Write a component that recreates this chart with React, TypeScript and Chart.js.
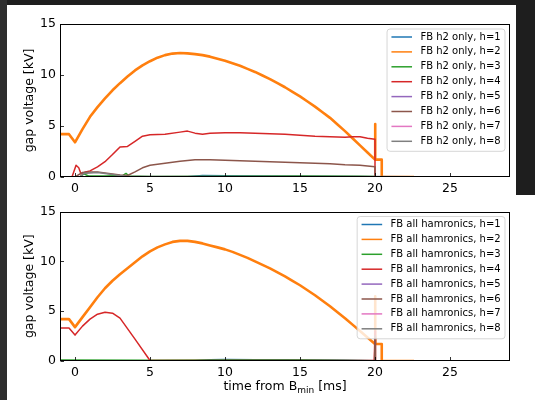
import React, { useEffect, useRef } from "react";
import { Chart, registerables } from "chart.js";
Chart.register(...registerables);

type P = [number, number];

const harmonics = [1, 2, 3, 4, 5, 6, 7, 8];
const colors = ["#1f77b4", "#ff7f0e", "#2ca02c", "#d62728", "#9467bd", "#8c564b", "#e377c2", "#7f7f7f"];
const xTicks = [0, 5, 10, 15, 20, 25];
const yTicks = [0, 5, 10, 15];
const xMin = -1;
const xMax = 29;
const yMin = 0;
const yMax = 15;
const topLabel = "FB h2 only";
const bottomLabel = "FB all hamronics";
const yTitle = "gap voltage [kV]";
const xTitleMain = "time from B";
const xTitleSub = "min";
const xTitleEnd = " [ms]";

// ---- top panel: FB h2 only ----
const topH1: P[] = [[-1, 0], [7.5, 0.02], [8.5, 0.15], [10, 0.12], [12, 0.1], [14, 0.08], [17, 0.05], [20, 0.02], [22.6, 0]];
const topH2: P[] = [[-1, 4.2], [-0.4, 4.2], [0, 3.4], [0.5, 4.7], [1, 5.9], [1.5, 6.85], [2, 7.7], [2.5, 8.5], [3, 9.2], [3.5, 9.85], [4, 10.45], [4.5, 10.95], [5, 11.35], [5.5, 11.7], [6, 11.95], [6.5, 12.1], [7, 12.15], [7.5, 12.12], [8, 12.05], [8.5, 11.95], [9, 11.8], [9.5, 11.6], [10, 11.4], [10.5, 11.15], [11, 10.9], [11.5, 10.6], [12, 10.3], [12.5, 9.95], [13, 9.6], [13.5, 9.2], [14, 8.8], [14.5, 8.35], [15, 7.9], [15.5, 7.4], [16, 6.9], [16.5, 6.35], [17, 5.8], [17.5, 5.15], [18, 4.5], [18.5, 3.8], [19, 3.1], [19.5, 2.4], [20, 1.7], [20, 5.2], [20.03, 1.7], [20.45, 1.7], [20.45, 0], [22.6, 0]];
const topH3: P[] = [[-1, 0], [0.3, 0], [0.6, 0.3], [0.9, 0.1], [2, 0.1], [3.2, 0.15], [3.4, 0.35], [3.6, 0.1], [5, 0.05], [10, 0.08], [15, 0.1], [19, 0.08], [20, 0.05], [20, 0], [22.6, 0]];
const topH4: P[] = [[-1, 0], [-0.2, 0], [0.07, 1.15], [0.25, 0.9], [0.4, 0.3], [0.7, 0.5], [1, 0.6], [1.5, 1.0], [2, 1.5], [2.5, 2.2], [3, 2.95], [3.5, 3.0], [4, 3.5], [4.5, 4.0], [5, 4.15], [6, 4.2], [7, 4.4], [7.5, 4.5], [8, 4.3], [8.5, 4.2], [9, 4.3], [10, 4.35], [11, 4.35], [12, 4.3], [13, 4.25], [14, 4.2], [15, 4.1], [16, 4.0], [17, 3.95], [18, 3.9], [18.5, 3.95], [19, 3.95], [19.5, 3.8], [20, 3.7], [20, 0], [22.6, 0]];
const topH5: P[] = [[-1, 0], [22.6, 0]];
const topH6: P[] = [[-1, 0], [0, 0], [0.5, 0.45], [1, 0.5], [1.5, 0.5], [2, 0.4], [2.5, 0.3], [3, 0.2], [3.5, 0.15], [4, 0.5], [4.5, 0.9], [5, 1.15], [6, 1.35], [7, 1.55], [8, 1.7], [9, 1.7], [10, 1.65], [11, 1.6], [12, 1.55], [13, 1.5], [14, 1.45], [15, 1.4], [16, 1.35], [17, 1.3], [18, 1.2], [19, 1.15], [20, 1.0], [20, 0], [22.6, 0]];
const topH7: P[] = [[-1, 0], [22.6, 0]];
const topH8: P[] = [[-1, 0], [0.3, 0], [0.6, 0.35], [1, 0.4], [1.5, 0.45], [2, 0.35], [2.5, 0.25], [3, 0.15], [3.5, 0.05], [5, 0.05], [10, 0.05], [20, 0.05], [22.6, 0.02]];

// ---- bottom panel: FB all harmonics ----
const botH1: P[] = [[-1, 0], [8, 0.02], [9, 0.12], [10, 0.15], [12, 0.12], [14, 0.12], [16, 0.1], [18, 0.08], [19, 0.05], [20, 0.02], [22.6, 0]];
const botH2: P[] = [[-1, 4.2], [-0.4, 4.2], [0, 3.4], [0.5, 4.4], [1, 5.4], [1.5, 6.4], [2, 7.3], [2.5, 8.05], [3, 8.7], [3.5, 9.3], [4, 9.9], [4.5, 10.5], [5, 11.0], [5.5, 11.4], [6, 11.7], [6.5, 11.95], [7, 12.05], [7.5, 12.05], [8, 11.95], [8.5, 11.8], [9, 11.6], [9.5, 11.4], [10, 11.2], [10.5, 10.95], [11, 10.65], [11.5, 10.35], [12, 10.0], [12.5, 9.65], [13, 9.3], [13.5, 8.9], [14, 8.5], [14.5, 8.05], [15, 7.6], [15.5, 7.1], [16, 6.6], [16.5, 6.05], [17, 5.5], [17.5, 4.9], [18, 4.3], [18.5, 3.65], [19, 3.0], [19.5, 2.35], [20, 1.7], [20, 6.5], [20.03, 1.7], [20.45, 1.7], [20.45, 0], [22.6, 0]];
const botH3: P[] = [[-1, 0.1], [5, 0.08], [10, 0.1], [15, 0.1], [17, 0.08], [20, 0.02], [22.6, 0]];
const botH4: P[] = [[-1, 0], [-1, 3.3], [-0.4, 3.3], [0, 2.6], [0.5, 3.5], [1, 4.2], [1.5, 4.7], [2, 4.9], [2.5, 4.8], [3, 4.3], [4, 2.2], [5, 0.05], [10, 0.05], [19.95, 0.05], [20, 3.0], [20.03, 0], [22.6, 0]];
const botH5: P[] = [[-1, 0], [22.6, 0]];
const botH6: P[] = [[-1, 0], [19.97, 0], [20, 2.5], [20.03, 0], [22.6, 0]];
const botH7: P[] = [[-1, 0], [22.6, 0]];
const botH8: P[] = [[-1, 0], [22.6, 0]];

const topSeries = [topH1, topH2, topH3, topH4, topH5, topH6, topH7, topH8];
const botSeries = [botH1, botH2, botH3, botH4, botH5, botH6, botH7, botH8];

const FONT = "DejaVu Sans";

const decorPlugin = {
  id: "decor",
  afterDraw(chart: any, _args: any, opts: any) {
    const { ctx, chartArea: a, scales } = chart;
    ctx.save();
    // frame
    ctx.strokeStyle = "#000";
    ctx.lineWidth = 1;
    const l = Math.round(a.left) + 0.5, t = Math.round(a.top) + 0.5;
    const r = Math.round(a.right) - 0.5, b = Math.round(a.bottom) - 0.5;
    ctx.strokeRect(l, t, r - l, b - t);
    // inward ticks
    ctx.lineWidth = 0.8;
    ctx.beginPath();
    for (const v of xTicks) {
      const px = Math.round(scales.x.getPixelForValue(v)) + 0.5;
      ctx.moveTo(px, b);
      ctx.lineTo(px, b - 3.5);
    }
    for (const v of yTicks) {
      const py = Math.round(scales.y.getPixelForValue(v)) + 0.5;
      ctx.moveTo(l, py);
      ctx.lineTo(l + 3.5, py);
    }
    ctx.stroke();
    // y title
    ctx.fillStyle = "#000";
    ctx.save();
    ctx.translate(30, (a.top + a.bottom) / 2);
    ctx.rotate(-Math.PI / 2);
    ctx.font = `12.5px '${FONT}'`;
    ctx.textAlign = "center";
    ctx.textBaseline = "middle";
    ctx.fillText(yTitle, 0, 0);
    ctx.restore();
    // x title with subscript
    if (opts.xTitle) {
      const mainFont = `12.5px '${FONT}'`;
      const subFont = `9px '${FONT}'`;
      ctx.font = mainFont;
      const w1 = ctx.measureText(xTitleMain).width;
      const w3 = ctx.measureText(xTitleEnd).width;
      ctx.font = subFont;
      const w2 = ctx.measureText(xTitleSub).width;
      const total = w1 + w2 + w3;
      let x = (a.left + a.right) / 2 - total / 2;
      const y = a.bottom + 26;
      ctx.textAlign = "left";
      ctx.textBaseline = "middle";
      ctx.font = mainFont;
      ctx.fillText(xTitleMain, x, y);
      x += w1;
      ctx.font = subFont;
      ctx.fillText(xTitleSub, x, y + 3.5);
      x += w2;
      ctx.font = mainFont;
      ctx.fillText(xTitleEnd, x, y);
    }
    // legend
    const ds = chart.data.datasets;
    ctx.font = `10px '${FONT}'`;
    let tw = 0;
    for (const d of ds) tw = Math.max(tw, ctx.measureText(d.label).width);
    const padL = 4.4, lineLen = 20.6, gap = 8.4, padR = 4.3;
    const bw = padL + lineLen + gap + tw + padR;
    const rowH = 14.9;
    const bh = 8 + rowH * (ds.length - 1) + 10;
    const bx = a.right - 5 - bw;
    const by = a.top + 5;
    ctx.beginPath();
    const rad = 3;
    ctx.moveTo(bx + rad, by);
    ctx.arcTo(bx + bw, by, bx + bw, by + bh, rad);
    ctx.arcTo(bx + bw, by + bh, bx, by + bh, rad);
    ctx.arcTo(bx, by + bh, bx, by, rad);
    ctx.arcTo(bx, by, bx + bw, by, rad);
    ctx.closePath();
    ctx.fillStyle = "rgba(255,255,255,0.8)";
    ctx.fill();
    ctx.strokeStyle = "rgba(204,204,204,0.8)";
    ctx.lineWidth = 1;
    ctx.stroke();
    ds.forEach((d: any, i: number) => {
      const cy = by + 8 + i * rowH;
      ctx.strokeStyle = d.borderColor;
      ctx.lineWidth = 1.5;
      ctx.beginPath();
      ctx.moveTo(bx + padL, cy);
      ctx.lineTo(bx + padL + lineLen, cy);
      ctx.stroke();
      ctx.fillStyle = "#000";
      ctx.textAlign = "left";
      ctx.textBaseline = "middle";
      ctx.fillText(d.label, bx + padL + lineLen + gap, cy);
    });
    ctx.restore();
  },
};

function makeConfig(series: P[][], prefix: string, padTop: number, xAxisH: number, xTitle: boolean): any {
  return {
    type: "line",
    data: {
      datasets: series.map((s, i) => ({
        label: `${prefix}, h=${harmonics[i]}`,
        data: s.map(([x, y]) => ({ x, y })),
        borderColor: colors[i],
        backgroundColor: colors[i],
        borderWidth: i === 1 ? 2.6 : 1.5,
        borderJoinStyle: "round",
        pointRadius: 0,
        tension: 0,
        fill: false,
        order: harmonics.length - i,
      })),
    },
    options: {
      responsive: false,
      animation: false,
      devicePixelRatio: 1,
      layout: { padding: { top: padTop, right: 25, left: 0, bottom: 0 } },
      plugins: {
        legend: { display: false },
        tooltip: { enabled: false },
        decor: { xTitle },
      },
      scales: {
        x: {
          type: "linear",
          min: xMin,
          max: xMax,
          grid: { display: false, drawTicks: false },
          border: { display: false },
          afterBuildTicks: (s: any) => {
            s.ticks = xTicks.map((v) => ({ value: v }));
          },
          afterFit: (s: any) => {
            s.height = xAxisH;
          },
          ticks: {
            padding: 4,
            color: "#000",
            maxRotation: 0,
            autoSkip: false,
            font: { family: FONT, size: 12.5 },
            callback: (v: any) => String(v),
          },
        },
        y: {
          type: "linear",
          min: yMin,
          max: yMax,
          grid: { display: false, drawTicks: false },
          border: { display: false },
          afterBuildTicks: (s: any) => {
            s.ticks = yTicks.map((v) => ({ value: v }));
          },
          afterFit: (s: any) => {
            s.width = 60;
          },
          ticks: {
            padding: 4,
            color: "#000",
            autoSkip: false,
            font: { family: FONT, size: 12.5 },
            callback: (v: any) => String(v),
          },
        },
      },
    },
    plugins: [decorPlugin],
  };
}

export default function App() {
  const topRef = useRef<HTMLCanvasElement>(null);
  const botRef = useRef<HTMLCanvasElement>(null);
  useEffect(() => {
    const c1 = new Chart(topRef.current!, makeConfig(topSeries, topLabel, 24, 23, false));
    const c2 = new Chart(botRef.current!, makeConfig(botSeries, bottomLabel, 8, 39, true));
    return () => {
      c1.destroy();
      c2.destroy();
    };
  }, []);
  return (
    <div style={{ position: "fixed", left: 0, top: 0, width: 535, height: 400, background: "#fff", overflow: "hidden" }}>
      <canvas ref={topRef} width={535} height={200} style={{ position: "absolute", left: 0, top: 0, width: 535, height: 200 }} />
      <canvas ref={botRef} width={535} height={200} style={{ position: "absolute", left: 0, top: 200, width: 535, height: 200 }} />
      <div style={{ position: "absolute", left: 0, top: 0, width: 535, height: 5, background: "#1e1e1e" }} />
      <div style={{ position: "absolute", left: 0, top: 0, width: 7, height: 400, background: "#2e2e2e" }} />
      <div style={{ position: "absolute", left: 516, top: 0, width: 19, height: 195, background: "#1e1e1e" }} />
    </div>
  );
}
